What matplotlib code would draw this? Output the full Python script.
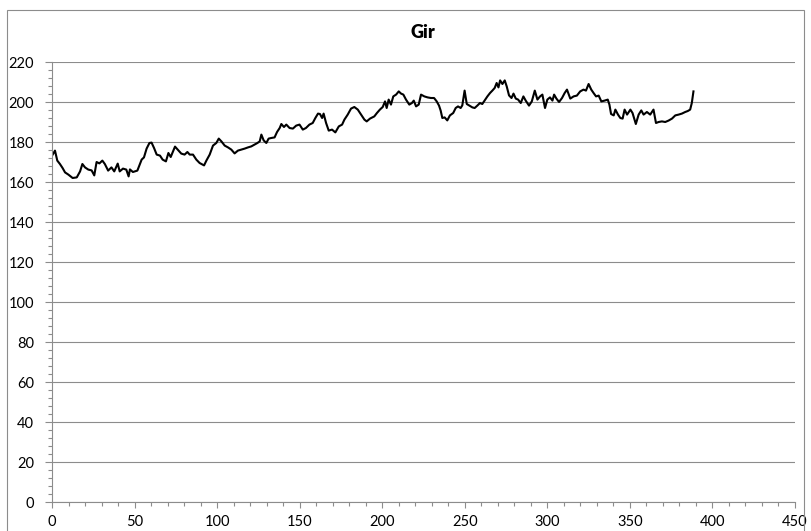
import matplotlib.pyplot as plt
from matplotlib.ticker import MultipleLocator
from matplotlib.patches import Rectangle

# values (x position, value)
x_vals = [0.4, 1.8, 3.2, 4.8, 6.4, 7.9, 9.9, 12.5, 15, 17, 18.4, 20, 22, 24, 25.6,
          27, 28.7, 30.5, 32, 34, 36, 37.7, 39.8, 41, 43, 45, 46.4, 47.2, 49, 51.7,
          54.3, 55.7, 57.3, 59, 60.3, 61.8, 63.4, 65.4, 67, 69, 70.5, 71.9, 74.5,
          77.1, 78.3, 80.3, 82, 83.4, 85.4, 87.4, 89.4, 92.1, 93.5, 95.5, 97.5, 99.5,
          101, 102.6, 104.6, 106.6, 108.6, 110.6, 112.6, 114.7, 116.7, 118.7, 120.7,
          122.7, 124.4, 125.8, 126.8, 128.2, 129.8, 131.2, 132.8, 134.8, 136.3, 137.9,
          138.9, 140.5, 141.9, 143.9, 145.9, 147.9, 149.9, 151.9, 153.8, 155.9, 157.9,
          159.5, 161.1, 162.3, 163.6, 164.5, 166, 167.6, 169.6, 171.6, 173.7, 175.7,
          177.1, 179.1, 181.1, 183.1, 185.2, 187.2, 189.2, 190.6, 192.6, 195.2, 196.8,
          198.6, 200.3, 201.7, 202.7, 203.9, 205.3, 206.7, 208.4, 210, 211.4, 212.8,
          214.4, 216.4, 218, 219.1, 220.5, 222.1, 223.5, 225.5, 227.5, 229.5, 231.4,
          233, 234.4, 235.4, 236.4, 237.8, 239.4, 241, 243, 244.5, 245.9, 247.5, 248.5,
          249.9, 251.2, 252.6, 254.6, 256, 257.6, 259.2, 260.6, 262, 263.7, 265.3,
          266.7, 268.1, 269.3, 270.4, 271.4, 272.8, 274.2, 275.4, 276.8, 278.3, 279.5,
          280.9, 282.3, 283.9, 285.5, 286.9, 288.9, 290.6, 292.4, 294, 295.6, 297,
          298.6, 300, 301.6, 303.1, 304.1, 305.5, 307.1, 308.9, 310.5, 311.9, 313.9,
          315.9, 317.9, 319.9, 321.9, 323.4, 325, 326.6, 328, 329.5, 331.1, 332.7,
          334.7, 336.6, 337.6, 338.6, 340.2, 341.2, 342.8, 344.2, 345.6, 346.8, 348.3,
          350.3, 351.6, 353.6, 355.3, 356.9, 358.3, 360.3, 362.3, 364.3, 365.8, 367.4,
          369.4, 371.4, 373.4, 375.5, 377.5, 379.5, 381.5, 383.5, 385.1, 386.5, 387.5,
          388.5]
y_vals = [173.7, 175.7, 170.7, 169, 167, 164.8, 163.7, 162, 162.3, 165.3, 169, 167.3,
          166.2, 165.8, 163.3, 170, 169.3, 170.7, 169, 165.7, 167.3, 165.3, 169.2,
          165.3, 166.7, 166.2, 162.8, 166.3, 165, 165.7, 171.2, 172.3, 176.7, 179.5,
          179.7, 177, 173.7, 173.2, 171.2, 170.3, 174.5, 172.5, 177.7, 175.3, 174.2,
          173.7, 175, 173.7, 173.7, 171.2, 169.5, 168.3, 170.7, 173.7, 178.2, 179.5,
          181.7, 180.3, 178.2, 177.3, 176.2, 174.3, 175.7, 176.2, 176.7, 177.3, 177.8,
          178.7, 179.5, 180.3, 183.7, 180.8, 179.5, 181.7, 182, 182.3, 185, 187, 189,
          187.5, 188.7, 187, 186.7, 188.2, 188.7, 186.2, 187, 188.7, 189.5, 192, 194.2,
          194, 192, 194.2, 189.5, 185.7, 186.2, 184.8, 187.8, 188.7, 191.2, 193.7,
          196.7, 197.5, 196.2, 193.7, 191.2, 190.3, 191.7, 192.8, 194.5, 196.2, 197.5,
          200.3, 197, 201.2, 198.7, 202.8, 203.7, 205.3, 204.2, 203.7, 201.2, 198.7,
          199.5, 200.7, 197.8, 198.7, 203.7, 202.8, 202.3, 202, 202, 200.3, 198.2,
          195.7, 192, 192.3, 190.8, 193.3, 194.5, 197, 197.8, 197, 198.3, 205.7, 199,
          198.3, 197.3, 197, 198.2, 199.5, 199, 200.7, 202.8, 204.5, 205.7, 207, 209.5,
          207.3, 210.8, 209, 210.8, 207.8, 203.3, 202, 204.2, 201.7, 201.2, 199.5,
          202.8, 200.7, 198.2, 200.3, 205.7, 201.2, 202.8, 203.7, 197, 201.2, 202.3,
          200.7, 203.7, 201.7, 200, 202, 204.5, 206.2, 201.7, 202.8, 203.2, 205.3,
          206.2, 205.7, 209, 206.2, 204.5, 202.8, 203.2, 200.3, 200.7, 201.2, 198.7,
          194, 193.3, 196.2, 193.7, 192, 191.7, 196.2, 193.7, 196.2, 194.5, 189, 193.7,
          195.8, 193.7, 195, 193.7, 196.2, 189.5, 190, 190.3, 190, 190.7, 191.7, 193.3,
          193.7, 194.2, 195, 195.5, 196.2, 199.5, 205.3]

title = "Gir"
grid_col = "#8c8c8c"

plt.rcParams['font.family'] = ['Lato', 'DejaVu Sans']

fig = plt.figure(figsize=(8.11, 5.31), dpi=100)
ax = fig.add_axes([52 / 811, 29 / 531, 743 / 811, 440 / 531])

ax.plot(x_vals, y_vals, color="black", linewidth=1.5)

ax.set_xlim(0, 450)
ax.set_ylim(0, 220)
ax.xaxis.set_major_locator(MultipleLocator(50))
ax.xaxis.set_minor_locator(MultipleLocator(10))
ax.yaxis.set_major_locator(MultipleLocator(20))
ax.yaxis.set_minor_locator(MultipleLocator(4))

ax.grid(axis="y", which="major", color=grid_col, linewidth=0.8)
ax.set_axisbelow(True)
for side in ["top", "right"]:
    ax.spines[side].set_visible(False)
for side in ["left", "bottom"]:
    ax.spines[side].set_color(grid_col)
    ax.spines[side].set_linewidth(0.8)

ax.tick_params(axis="both", which="both", color=grid_col, width=0.8, direction="out")
ax.tick_params(axis="y", which="major", length=5, pad=8, labelsize=10.5)
ax.tick_params(axis="y", which="minor", length=3)
ax.tick_params(axis="x", which="major", length=4, pad=5, labelsize=10.5)
ax.tick_params(axis="x", which="minor", length=3)

fig.text(423 / 811, 1 - 33 / 531, title, ha="center", va="center",
         fontsize=13, fontweight="heavy")

# chart area border
fig.patches.append(Rectangle((7 / 811, -0.05), 797 / 811, 1.05 - 10 / 531,
                             transform=fig.transFigure, fill=False,
                             edgecolor=grid_col, linewidth=0.8))

fig.savefig("out.png", dpi=100)
